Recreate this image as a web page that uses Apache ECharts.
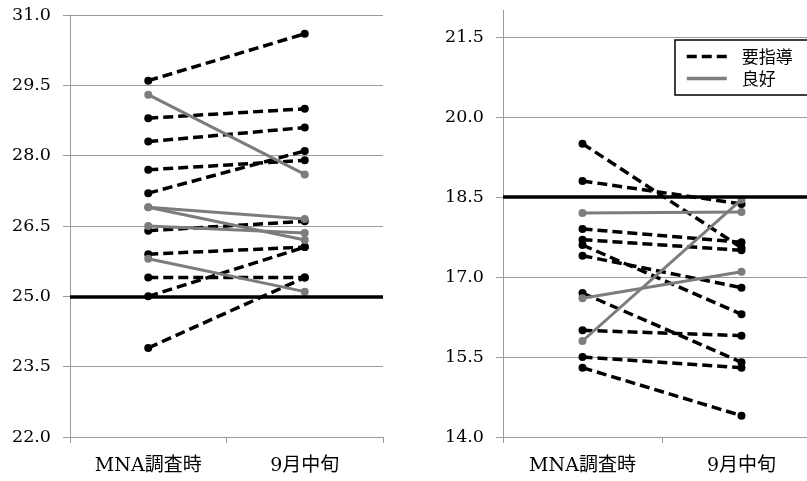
<!DOCTYPE html>
<html><head><meta charset="utf-8">
<script src="https://cdn.jsdelivr.net/npm/echarts@6/dist/echarts.min.js"></script>
<style>html,body{margin:0;padding:0;background:#fff;overflow:hidden;width:807px;height:481px}#c{width:821px;height:481px}</style>
</head><body><div id="c"></div>
<script>
const categories = ['MNA調査時', '9月中旬'];
const seriesNames = ['要指導', '良好'];

// Left panel values
const leftGuidanceMNA = [29.6, 28.8, 28.3, 27.7, 27.2, 26.4, 25.9, 25.4, 25.0, 23.9];
const leftGuidanceSep = [30.6, 29.0, 28.6, 27.9, 28.1, 26.6, 26.05, 25.4, 26.05, 25.4];
const leftGoodMNA = [29.3, 26.9, 26.9, 26.5, 25.8];
const leftGoodSep = [27.6, 26.65, 26.2, 26.35, 25.1];
const leftThreshold = [25.0];
const leftAxisRange = [22.0, 31.0];
const leftAxisStep = [1.5];

// Right panel values
const rightGuidanceMNA = [19.5, 18.8, 17.9, 17.7, 17.6, 17.4, 16.7, 16.0, 15.5, 15.3];
const rightGuidanceSep = [17.55, 18.37, 17.65, 17.5, 16.3, 16.8, 15.4, 15.9, 15.3, 14.4];
const rightGoodMNA = [18.2, 16.6, 15.8];
const rightGoodSep = [18.22, 17.1, 18.45];
const rightThreshold = [18.5];
const rightAxisRange = [14.0, 22.0];
const rightAxisStep = [1.5];

const BLACK = '#000000';
const GRAY = '#7c7c7c';
const AXIS_GRAY = '#9a9a9a';
const serifFont = '"DejaVu Serif", "Noto Sans CJK JP", serif';
const cjkFont = '"Noto Sans CJK JP", sans-serif';

function pairSeries(startArr, endArr, name, gridIdx, dashed) {
  return startArr.map((s, i) => ({
    type: 'line',
    name: name,
    xAxisIndex: gridIdx,
    yAxisIndex: gridIdx,
    data: [s, endArr[i]],
    symbol: 'circle',
    symbolSize: 8,
    z: dashed ? 3 : 4,
    lineStyle: dashed ? { color: BLACK, width: 3.5, type: [10, 5] } : { color: GRAY, width: 3, type: 'solid' },
    itemStyle: { color: dashed ? BLACK : GRAY },
    silent: true,
    animation: false
  }));
}

function thresholdSeries(val, gridIdx) {
  return {
    type: 'line', name: 'threshold', xAxisIndex: gridIdx, yAxisIndex: gridIdx,
    data: [], silent: true, animation: false,
    markLine: {
      silent: true, symbol: 'none', label: { show: false },
      lineStyle: { color: BLACK, width: 3.5, type: 'solid' },
      data: [{ yAxis: val }]
    },
    z: 2
  };
}

function xAxis(gridIdx) {
  return {
    type: 'category', gridIndex: gridIdx, data: categories, boundaryGap: true,
    axisLine: { show: true, lineStyle: { color: AXIS_GRAY, width: 1 } },
    axisTick: { show: true, length: 6, lineStyle: { color: AXIS_GRAY } },
    axisLabel: { margin: 20, color: '#000', fontSize: 19, fontFamily: serifFont },
    splitLine: { show: false }
  };
}

function yAxis(gridIdx, range, step) {
  return {
    type: 'value', gridIndex: gridIdx, min: range[0], max: range[1], interval: step[0],
    axisLine: { show: true, lineStyle: { color: AXIS_GRAY, width: 1 } },
    axisTick: { show: true, length: 7, lineStyle: { color: AXIS_GRAY } },
    axisLabel: {
      margin: 19, color: '#000', fontSize: 17.5, fontFamily: serifFont,
      formatter: v => v.toFixed(1), showMaxLabel: gridIdx === 0
    },
    splitLine: { show: true, showMaxLine: gridIdx === 0, lineStyle: { color: AXIS_GRAY, width: 1 } }
  };
}

const series = [].concat(
  [thresholdSeries(leftThreshold[0], 0), thresholdSeries(rightThreshold[0], 1)],
  pairSeries(leftGuidanceMNA, leftGuidanceSep, seriesNames[0], 0, true),
  pairSeries(leftGoodMNA, leftGoodSep, seriesNames[1], 0, false),
  pairSeries(rightGuidanceMNA, rightGuidanceSep, seriesNames[0], 1, true),
  pairSeries(rightGoodMNA, rightGoodSep, seriesNames[1], 1, false)
);

const chart = echarts.init(document.getElementById('c'), null, { renderer: 'canvas' });
chart.setOption({
  animation: false,
  backgroundColor: '#fff',
  grid: [
    { left: 70, top: 15, width: 313, height: 422 },
    { left: 503, top: 10.33, width: 318, height: 426.67 }
  ],
  xAxis: [xAxis(0), xAxis(1)],
  yAxis: [yAxis(0, leftAxisRange, leftAxisStep), yAxis(1, rightAxisRange, rightAxisStep)],
  legend: {
    data: seriesNames,
    orient: 'vertical',
    left: 675, top: 40,
    borderColor: BLACK, borderWidth: 1.5,
    padding: [8, 60, 8, 10],
    itemGap: 5,
    itemWidth: 40, itemHeight: 16,
    itemStyle: { opacity: 0 },
    lineStyle: { width: 3.5 },
    selectedMode: false,
    textStyle: { fontSize: 17, fontFamily: cjkFont, color: '#000', padding: [0, 0, 0, 10] }
  },
  series: series
});
</script>
</body></html>
